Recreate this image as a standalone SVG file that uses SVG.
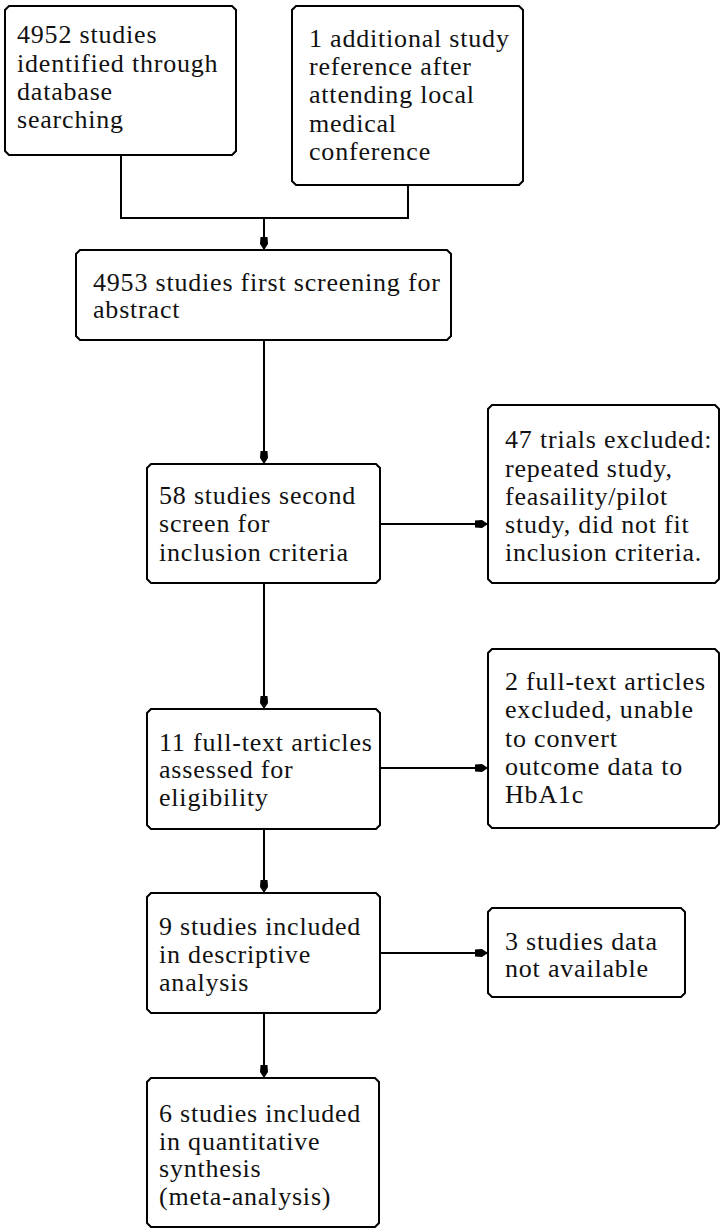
<svg xmlns="http://www.w3.org/2000/svg" width="720" height="1232" viewBox="0 0 720 1232">
  <style>
    .box { fill: #ffffff; stroke: #000000; stroke-width: 2; stroke-linejoin: miter; }
    .lbl { font-family: "Liberation Serif", "Times New Roman", serif; font-size: 26px; letter-spacing: 0.8px; fill: #111111; }
    .con { fill: none; stroke: #000000; stroke-width: 2; }
    .arr { marker-end: url(#ah); }
  </style>
  <defs>
    <marker id="ah" markerUnits="userSpaceOnUse" viewBox="-1 -6 15 12" refX="13" refY="0" markerWidth="15" markerHeight="12" orient="auto">
      <path d="M0,-3.5 L7,-4 L13,0 L7,4 L0,3.5 Z" fill="#000000"/>
    </marker>
  </defs>
  <rect x="0" y="0" width="720" height="1232" fill="#ffffff"/>

  <g id="connectors">
    <path class="con" d="M121,155 V218 H408 V185"/>
    <path class="con arr" d="M264,218 V250"/>
    <path class="con arr" d="M264,340 V464"/>
    <path class="con arr" d="M380,524 H488"/>
    <path class="con arr" d="M264,583 V709"/>
    <path class="con arr" d="M380,768 H488"/>
    <path class="con arr" d="M264,829 V893"/>
    <path class="con arr" d="M380,953 H488"/>
    <path class="con arr" d="M264,1013 V1078"/>
  </g>

  <g id="n1">
    <path class="box" d="M9,6 H232 L236,10 V151 L232,155 H9 L5,151 V10 Z"/>
    <text class="lbl"><tspan x="17" y="43">4952 studies</tspan><tspan x="17" y="72">identified through</tspan><tspan x="17" y="100">database</tspan><tspan x="17" y="128">searching</tspan></text>
  </g>
  <g id="n2">
    <path class="box" d="M296,6 H519 L523,10 V181 L519,185 H296 L292,181 V10 Z"/>
    <text class="lbl"><tspan x="309" y="47">1 additional study</tspan><tspan x="309" y="75">reference after</tspan><tspan x="309" y="103">attending local</tspan><tspan x="309" y="132">medical</tspan><tspan x="309" y="160">conference</tspan></text>
  </g>
  <g id="n3">
    <path class="box" d="M80,250 H447 L451,254 V336 L447,340 H80 L76,336 V254 Z"/>
    <text class="lbl"><tspan x="93" y="291">4953 studies first screening for</tspan><tspan x="93" y="318">abstract</tspan></text>
  </g>
  <g id="n4">
    <path class="box" d="M151,464 H376 L380,468 V579 L376,583 H151 L147,579 V468 Z"/>
    <text class="lbl"><tspan x="159" y="504">58 studies second</tspan><tspan x="159" y="532">screen for</tspan><tspan x="159" y="561">inclusion criteria</tspan></text>
  </g>
  <g id="n5">
    <path class="box" d="M492,405 H715 L719,409 V579 L715,583 H492 L488,579 V409 Z"/>
    <text class="lbl"><tspan x="505" y="448">47 trials excluded:</tspan><tspan x="505" y="477">repeated study,</tspan><tspan x="505" y="505">feasaility/pilot</tspan><tspan x="505" y="533">study, did not fit</tspan><tspan x="505" y="561">inclusion criteria.</tspan></text>
  </g>
  <g id="n6">
    <path class="box" d="M151,709 H376 L380,713 V825 L376,829 H151 L147,825 V713 Z"/>
    <text class="lbl"><tspan x="159" y="751">11 full-text articles</tspan><tspan x="159" y="778">assessed for</tspan><tspan x="159" y="806">eligibility</tspan></text>
  </g>
  <g id="n7">
    <path class="box" d="M492,649 H715 L719,653 V824 L715,828 H492 L488,824 V653 Z"/>
    <text class="lbl"><tspan x="505" y="690">2 full-text articles</tspan><tspan x="505" y="718">excluded, unable</tspan><tspan x="505" y="747">to convert</tspan><tspan x="505" y="775">outcome data to</tspan><tspan x="505" y="803">HbA1c</tspan></text>
  </g>
  <g id="n8">
    <path class="box" d="M151,893 H376 L380,897 V1009 L376,1013 H151 L147,1009 V897 Z"/>
    <text class="lbl"><tspan x="159" y="935">9 studies included</tspan><tspan x="159" y="963">in descriptive</tspan><tspan x="159" y="991">analysis</tspan></text>
  </g>
  <g id="n9">
    <path class="box" d="M492,908 H681 L685,912 V993 L681,997 H492 L488,993 V912 Z"/>
    <text class="lbl"><tspan x="505" y="950">3 studies data</tspan><tspan x="505" y="977">not available</tspan></text>
  </g>
  <g id="n10">
    <path class="box" d="M151,1078 H375 L379,1082 V1223 L375,1227 H151 L147,1223 V1082 Z"/>
    <text class="lbl"><tspan x="159" y="1122">6 studies included</tspan><tspan x="159" y="1150">in quantitative</tspan><tspan x="159" y="1177">synthesis</tspan><tspan x="159" y="1205">(meta-analysis)</tspan></text>
  </g>
</svg>
